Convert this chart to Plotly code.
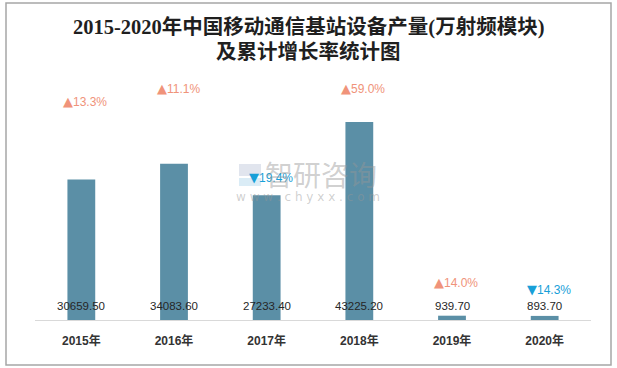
import plotly.graph_objects as go

years = ["2015年", "2016年", "2017年", "2018年", "2019年", "2020年"]
output = [30659.50, 34083.60, 27233.40, 43225.20, 939.70, 893.70]
growth = [13.3, 11.1, -19.4, 59.0, 14.0, -14.3]

title_lines = ["2015-2020年中国移动通信基站设备产量(万射频模块)", "及累计增长率统计图"]

# label pixel offsets above each bar top (layout only)
growth_shift = [78, 75, 18, 34, 33, 26]

W, H = 617, 368
ML, MR, MT, MB = 35, 26, 70, 48
PW, PH = W - ML - MR, H - MT - MB
ymax = max(output) * PH / 198

def px2paper(px, py):
    return (px - ML) / PW, (H - MB - py) / PH

fig = go.Figure()
fig.add_trace(go.Bar(
    x=years, y=output,
    marker=dict(color="#5B8FA6", line=dict(width=0)),
    hoverinfo="x+y",
))

ann = []
for yr, v, g, s in zip(years, output, growth, growth_shift):
    up = g >= 0
    tri = "▲" if up else "▼"
    ann.append(dict(
        x=yr, y=v, xref="x", yref="y",
        text=f"<span style='font-family:DejaVu Sans;font-size:13px'>{tri}</span>{abs(g):.1f}%",
        showarrow=False, yshift=s, xshift=4,
        font=dict(family="Liberation Sans, DejaVu Sans", size=12,
                  color="#F0937A" if up else "#18A0D8"),
    ))
    ann.append(dict(
        x=yr, y=0, xref="x", yref="y",
        text=f"{v:.2f}", showarrow=False, yshift=14,
        font=dict(family="Liberation Sans, DejaVu Sans", size=11.5, color="#262626"),
    ))

for line, py in zip(title_lines, [27, 52]):
    tx, ty = px2paper(308, py)
    ann.append(dict(x=tx, y=ty, xref="paper", yref="paper", text=line, showarrow=False,
                    xanchor="center", yanchor="middle",
                    font=dict(family="Liberation Serif, Noto Sans CJK SC", size=20.5,
                              color="#1F1F1F", weight="bold")))

wx, wy = px2paper(321, 174)
ann.append(dict(x=wx, y=wy, xref="paper", yref="paper", text="智研咨询",
                showarrow=False, font=dict(family="Noto Sans CJK SC", size=28, color="rgba(150,150,150,0.45)")))
wx, wy = px2paper(308, 197)
ann.append(dict(x=wx, y=wy, xref="paper", yref="paper", text="w w w . c h y x x . c o m",
                showarrow=False, font=dict(family="DejaVu Sans", size=12, color="rgba(150,150,150,0.45)")))

bx0, by0 = px2paper(6, 365)
bx1, by1 = px2paper(611, 3)
l1 = px2paper(239, 164)
l2 = px2paper(261, 176)
l3 = px2paper(239, 178)
l4 = px2paper(261, 186)
shapes = [
    dict(type="rect", xref="paper", yref="paper", x0=l1[0], y0=l2[1], x1=l2[0], y1=l1[1],
         fillcolor="rgba(170,180,205,0.35)", line=dict(width=0), layer="above"),
    dict(type="rect", xref="paper", yref="paper", x0=l3[0], y0=l4[1], x1=l4[0], y1=l3[1],
         fillcolor="rgba(150,200,230,0.35)", line=dict(width=0), layer="above"),
    dict(type="rect", xref="paper", yref="paper", x0=bx0, y0=by0, x1=bx1, y1=by1,
         line=dict(color="#A6A6A6", width=1.5), fillcolor="rgba(0,0,0,0)"),
]

fig.update_layout(
    width=W, height=H,
    margin=dict(l=ML, r=MR, t=MT, b=MB),
    paper_bgcolor="white", plot_bgcolor="white",
    bargap=0.7, showlegend=False,
    xaxis=dict(showline=True, linecolor="#D9D9D9", linewidth=1, ticks="",
               ticklabelstandoff=10,
               tickfont=dict(family="Liberation Sans, Noto Sans CJK SC", size=12, color="#333333", weight="bold"),
               showgrid=False, zeroline=False),
    yaxis=dict(range=[0, ymax], visible=False, showgrid=False, zeroline=False),
    annotations=ann, shapes=shapes,
)

fig.write_html("out.html", config={"displayModeBar": False},
               post_script="document.body.style.margin='0';document.body.style.overflow='hidden';")
